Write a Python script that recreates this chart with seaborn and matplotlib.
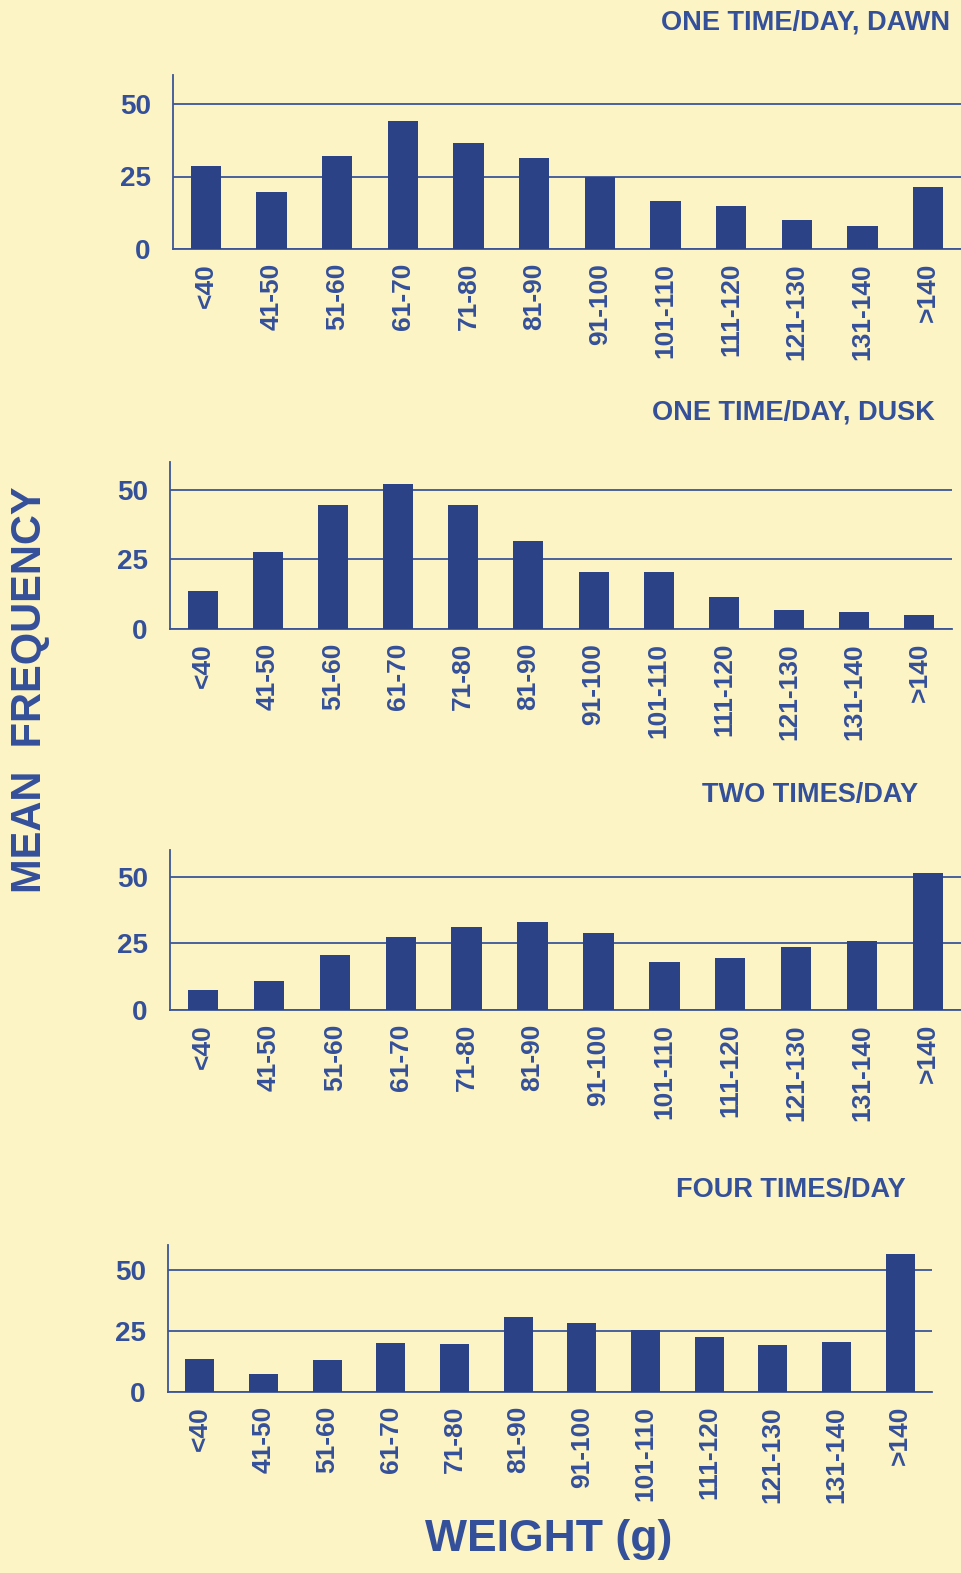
import matplotlib
matplotlib.use("Agg")
import matplotlib.pyplot as plt
import seaborn as sns
import pandas as pd

categories = ["<40", "41-50", "51-60", "61-70", "71-80", "81-90", "91-100",
              "101-110", "111-120", "121-130", "131-140", ">140"]
dawn = [28.5, 19.5, 32, 44, 36.5, 31.5, 25, 16.5, 15, 10, 8, 21.5]
dusk = [13.5, 27.5, 44.5, 52, 44.5, 31.5, 20.5, 20.5, 11.5, 7, 6, 5]
two_times = [7.5, 11, 20.5, 27.5, 31, 33, 29, 18, 19.5, 23.5, 26, 51.5]
four_times = [13.5, 7.5, 13, 20, 19.5, 30.5, 28, 25.5, 22.5, 19, 20.5, 56.5]
titles = ["ONE TIME/DAY, DAWN", "ONE TIME/DAY, DUSK", "TWO TIMES/DAY", "FOUR TIMES/DAY"]
yticks = [0, 25, 50]

sns.set_theme(style="white")
plt.rcParams['font.family'] = ['Liberation Sans', 'DejaVu Sans']

BG = "#FCF4C4"
TXT = "#34509A"
BAR = "#2C4287"
LINE = "#3B5598"

W, H = 961, 1573
fig = plt.figure(figsize=(W / 100, H / 100), dpi=100)
fig.patch.set_facecolor(BG)

# pixel boxes (left, right, top, bottom) and title (right x, center y)
boxes = [(173, 961, 75, 249), (170, 952, 462, 629), (170, 961, 850, 1010), (168, 932, 1245, 1392)]
title_pos = [(950, 22), (935, 412), (918, 795), (906, 1190)]
series = [dawn, dusk, two_times, four_times]

for (l, r, t, b), (tx, ty), vals, ttl in zip(boxes, title_pos, series, titles):
    ax = fig.add_axes([l / W, 1 - b / H, (r - l) / W, (b - t) / H])
    ax.set_facecolor(BG)
    df = pd.DataFrame({"cat": categories, "val": vals})
    sns.barplot(data=df, x="cat", y="val", ax=ax, color=BAR, saturation=1,
                width=0.46, order=categories, zorder=3, linewidth=0, edgecolor=BAR)
    ax.set_xlim(-0.5, 11.5)
    ax.set_ylim(0, 60)
    ax.set_yticks(yticks)
    ax.set_yticklabels([str(v) for v in yticks])
    ax.yaxis.grid(True, color=LINE, linewidth=1.3)
    ax.set_axisbelow(True)
    for s in ["top", "right"]:
        ax.spines[s].set_visible(False)
    for s in ["left", "bottom"]:
        ax.spines[s].set_color(LINE)
        ax.spines[s].set_linewidth(1.3)
    ax.tick_params(axis="y", length=0, pad=16, labelsize=20, labelcolor=TXT)
    ax.tick_params(axis="x", length=0, pad=10, labelsize=19, labelcolor=TXT, rotation=90)
    for lab in ax.get_xticklabels() + ax.get_yticklabels():
        lab.set_fontweight("semibold")
    ax.set_xlabel("")
    ax.set_ylabel("")
    fig.text(tx / W, 1 - ty / H, ttl, ha="right", va="center", fontsize=19.5,
             fontweight="bold", color=TXT)

fig.text(30 / W, 1 - 690 / H, "MEAN  FREQUENCY", rotation=90, ha="center", va="center",
         fontsize=30, fontweight="bold", color=TXT)
fig.text(549 / W, 1 - 1540 / H, "WEIGHT (g)", ha="center", va="center",
         fontsize=32, fontweight="bold", color=TXT)

fig.savefig("out.png", dpi=100, facecolor=BG)
